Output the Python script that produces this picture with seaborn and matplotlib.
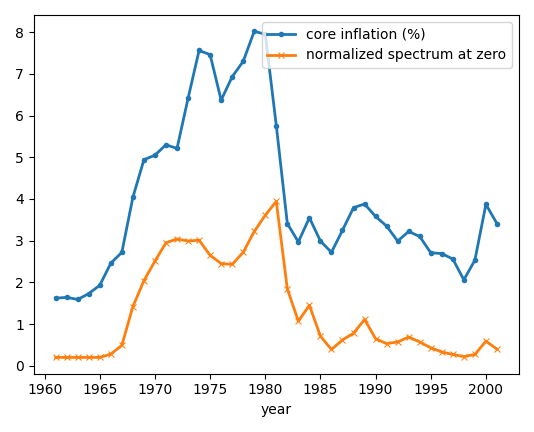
import numpy as np
import pandas as pd
import matplotlib
matplotlib.use("Agg")
import matplotlib.pyplot as plt
import seaborn as sns

years = list(range(1961, 2002))
core_inflation = [1.62, 1.64, 1.59, 1.73, 1.93, 2.46, 2.72, 4.04, 4.94, 5.05,
                  5.30, 5.21, 6.41, 7.56, 7.46, 6.37, 6.93, 7.30, 8.02, 7.95,
                  5.76, 3.41, 2.97, 3.55, 2.99, 2.72, 3.25, 3.79, 3.88, 3.58,
                  3.35, 2.99, 3.22, 3.10, 2.71, 2.69, 2.56, 2.06, 2.53, 3.87, 3.41]
spectrum_zero = [0.20, 0.20, 0.20, 0.20, 0.20, 0.28, 0.49, 1.42, 2.04, 2.51,
                 2.95, 3.04, 2.99, 3.01, 2.65, 2.45, 2.43, 2.72, 3.22, 3.61,
                 3.94, 1.84, 1.07, 1.45, 0.71, 0.39, 0.62, 0.78, 1.11, 0.65,
                 0.53, 0.57, 0.69, 0.57, 0.43, 0.33, 0.27, 0.22, 0.27, 0.59, 0.40]

df = pd.DataFrame({"year": years,
                   "core inflation (%)": core_inflation,
                   "normalized spectrum at zero": spectrum_zero})

fig, ax = plt.subplots(figsize=(5.34, 4.32), dpi=100)
sns.lineplot(data=df, x="year", y="core inflation (%)", ax=ax, color="#1f77b4",
             marker="o", markersize=4, markeredgewidth=0, lw=2, label="core inflation (%)")
sns.lineplot(data=df, x="year", y="normalized spectrum at zero", ax=ax, color="#ff7f0e",
             marker="x", markersize=5, markeredgecolor="#ff7f0e", lw=2,
             label="normalized spectrum at zero")
ax.set_ylabel("")
ax.set_xlabel("year")
ax.legend(loc="upper right")
plt.tight_layout()
plt.savefig("out.png", dpi=100)
